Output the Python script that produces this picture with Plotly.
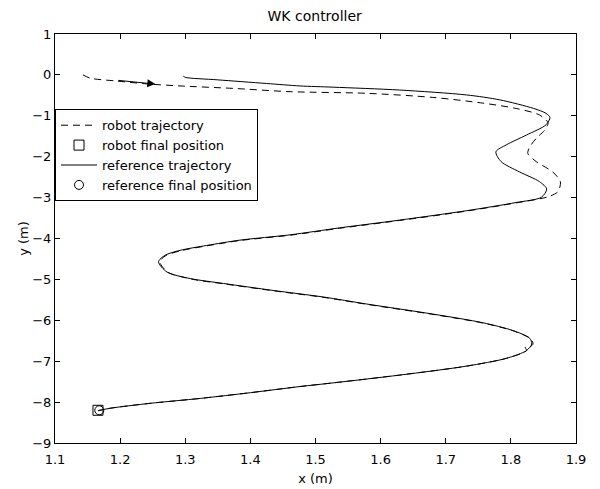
import plotly.graph_objects as go

# Reference trajectory (solid)
ref_x = [1.297, 1.300, 1.349, 1.425, 1.476, 1.527, 1.629, 1.732, 1.783, 1.835, 1.854, 1.860,
         1.854, 1.824, 1.793, 1.777, 1.785, 1.813, 1.844, 1.855, 1.847, 1.808, 1.732, 1.629,
         1.537, 1.461, 1.384, 1.333, 1.292, 1.269, 1.259, 1.272, 1.308, 1.359, 1.435, 1.512,
         1.578, 1.681, 1.757, 1.803, 1.829, 1.832, 1.824, 1.793, 1.732, 1.629, 1.527, 1.476,
         1.400, 1.323, 1.246, 1.185, 1.166]
ref_y = [-0.03, -0.06, -0.12, -0.21, -0.27, -0.30, -0.37, -0.49, -0.61, -0.82, -0.94, -1.04,
         -1.22, -1.47, -1.71, -1.88, -2.12, -2.37, -2.61, -2.79, -2.99, -3.12, -3.32, -3.55,
         -3.74, -3.91, -4.04, -4.17, -4.29, -4.41, -4.57, -4.82, -4.98, -5.10, -5.27, -5.43,
         -5.60, -5.85, -6.06, -6.25, -6.44, -6.58, -6.74, -6.93, -7.12, -7.34, -7.53, -7.62,
         -7.77, -7.91, -8.03, -8.15, -8.21]

# Robot trajectory (dashed)
rob_x = [1.143, 1.154, 1.195, 1.241, 1.292, 1.374, 1.461, 1.578, 1.680, 1.757, 1.808,
         1.844, 1.857, 1.852, 1.839, 1.829, 1.826, 1.839, 1.864, 1.876, 1.872, 1.857, 1.844,
         1.808, 1.732, 1.629, 1.537, 1.461, 1.384, 1.333, 1.293, 1.270, 1.261, 1.273, 1.309,
         1.360, 1.436, 1.513, 1.579, 1.682, 1.758, 1.804, 1.830, 1.834, 1.826, 1.822, 1.824,
         1.793, 1.732, 1.629, 1.527, 1.476, 1.400, 1.323, 1.246, 1.185, 1.166]
rob_y = [-0.00, -0.08, -0.15, -0.22, -0.27, -0.33, -0.41, -0.45, -0.55, -0.69, -0.82,
         -0.98, -1.17, -1.35, -1.55, -1.76, -1.92, -2.12, -2.37, -2.61, -2.86, -2.98, -3.03,
         -3.13, -3.33, -3.56, -3.75, -3.92, -4.05, -4.18, -4.30, -4.42, -4.57, -4.82, -4.99,
         -5.11, -5.28, -5.44, -5.61, -5.86, -6.07, -6.26, -6.45, -6.58, -6.68, -6.66, -6.74,
         -6.93, -7.12, -7.34, -7.53, -7.62, -7.77, -7.91, -8.03, -8.15, -8.21]

robot_final = (1.166, -8.20)
ref_final = (1.168, -8.20)
arrow_idx = 3  # arrow drawn on robot trajectory at this point

FONT = "DejaVu Sans, sans-serif"

fig = go.Figure()
fig.add_trace(go.Scatter(x=rob_x, y=rob_y, mode="lines", name="robot trajectory",
                         line=dict(color="black", width=1, dash="7px,5px",
                                   shape="spline", smoothing=0.8)))
fig.add_trace(go.Scatter(x=[robot_final[0]], y=[robot_final[1]], mode="markers",
                         name="robot final position",
                         marker=dict(symbol="square-open", size=10, color="black",
                                     line=dict(width=1, color="black"))))
fig.add_trace(go.Scatter(x=ref_x, y=ref_y, mode="lines", name="reference trajectory",
                         line=dict(color="black", width=1, shape="spline", smoothing=0.8)))
fig.add_trace(go.Scatter(x=[ref_final[0]], y=[ref_final[1]], mode="markers",
                         name="reference final position",
                         marker=dict(symbol="circle-open", size=9, color="black",
                                     line=dict(width=1, color="black"))))

fig.add_annotation(x=rob_x[arrow_idx] + 0.013, y=rob_y[arrow_idx] - 0.005,
                   ax=rob_x[arrow_idx - 1], ay=rob_y[arrow_idx - 1] + 0.02,
                   xref="x", yref="y", axref="x", ayref="y",
                   text="", showarrow=True, arrowhead=2, arrowsize=1.6,
                   arrowwidth=1, arrowcolor="black")

axis_common = dict(showgrid=False, zeroline=False, showline=True, linecolor="black",
                   linewidth=1, mirror="ticks", ticks="inside", ticklen=5,
                   tickcolor="black", automargin=False,
                   tickfont=dict(family=FONT, size=13, color="black"))

fig.update_layout(
    width=592, height=481,
    margin=dict(l=46.5, r=24, t=26, b=46),
    paper_bgcolor="white", plot_bgcolor="white",
    font=dict(family=FONT, size=13, color="black"),
    title=dict(text="WK controller", x=0.518, xanchor="center", y=0.984, yanchor="middle",
               font=dict(family=FONT, size=14, color="black")),
    xaxis=dict(range=[1.1, 1.9], tickvals=[1.1, 1.2, 1.3, 1.4, 1.5, 1.6, 1.7, 1.8, 1.9],
               ticktext=["1.1", "1.2", "1.3", "1.4", "1.5", "1.6", "1.7", "1.8", "1.9"],
               ticklabelstandoff=4,
               title=dict(text="x (m)", standoff=8, font=dict(family=FONT, size=13)),
               **axis_common),
    yaxis=dict(range=[-9, 1], tickvals=list(range(-9, 2)),
               title=dict(text="y (m)", standoff=0, font=dict(family=FONT, size=13)),
               **axis_common),
    legend=dict(x=0, y=0.816, xanchor="left", yanchor="top", bgcolor="white",
                bordercolor="black", borderwidth=1, itemwidth=36,
                font=dict(family=FONT, size=13, color="black")),
    showlegend=True,
)

fig.write_html("out.html")
